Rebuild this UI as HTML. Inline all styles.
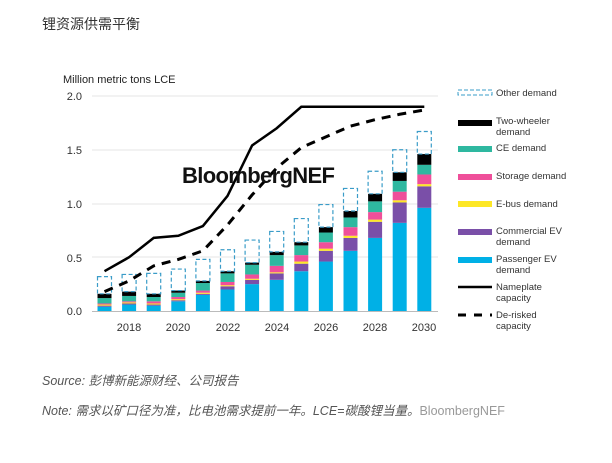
<!DOCTYPE html>
<html><head><meta charset="utf-8"><style>
body{margin:0;width:612px;height:463px;background:#fff;overflow:hidden;font-family:"Liberation Sans","Noto Sans CJK SC",sans-serif}
.t{position:absolute;left:42px;top:14px;font-size:14px;color:#333}
.s{position:absolute;left:42px;font-size:12.5px;color:#555;font-style:italic}
</style></head><body>
<div class="t">锂资源供需平衡</div>
<svg id="c" width="612" height="463" style="position:absolute;left:0;top:0" font-family="Liberation Sans, sans-serif">
<text x="63" y="83" font-size="11" fill="#222">Million metric tons LCE</text>
<g font-size="11" fill="#333" text-anchor="end">
<text x="82" y="100">2.0</text><text x="82" y="154">1.5</text><text x="82" y="208">1.0</text><text x="82" y="262">0.5</text><text x="82" y="315">0.0</text></g>
<g stroke="#e6e6e6" stroke-width="1"><line x1="92" x2="438" y1="96" y2="96"/><line x1="92" x2="438" y1="150" y2="150"/><line x1="92" x2="438" y1="204" y2="204"/><line x1="92" x2="438" y1="257" y2="257"/></g>
<line x1="92" x2="438" y1="311.5" y2="311.5" stroke="#bbb"/>
<g font-size="11" fill="#333" text-anchor="middle">
<text x="129" y="331">2018</text><text x="178" y="331">2020</text><text x="228" y="331">2022</text><text x="277" y="331">2024</text><text x="326" y="331">2026</text><text x="375" y="331">2028</text><text x="424" y="331">2030</text></g>
<g id="bars"></g>
<text x="182" y="183" font-size="22" font-weight="bold" fill="#111" textLength="153">BloombergNEF</text>
<g font-size="9.5" fill="#333">
<rect x="458" y="90" width="34" height="5" fill="none" stroke="#3a9cc8" stroke-dasharray="4,2"/><text x="496" y="96">Other demand</text>
<rect x="458" y="120" width="34" height="6" fill="#000"/><text x="496" y="124">Two-wheeler</text><text x="496" y="135">demand</text>
<rect x="458" y="146" width="34" height="6" fill="#2eb8a0"/><text x="496" y="151">CE demand</text>
<rect x="458" y="174" width="34" height="6" fill="#ef4f9a"/><text x="496" y="179">Storage demand</text>
<rect x="458" y="201" width="34" height="6" fill="#fde726"/><text x="496" y="207">E-bus demand</text>
<rect x="458" y="229" width="34" height="6" fill="#7a4fa8"/><text x="496" y="234">Commercial EV</text><text x="496" y="245">demand</text>
<rect x="458" y="257" width="34" height="6" fill="#00b0e6"/><text x="496" y="262">Passenger EV</text><text x="496" y="273">demand</text>
<line x1="458" x2="492" y1="287" y2="287" stroke="#000" stroke-width="2.5"/><text x="496" y="290">Nameplate</text><text x="496" y="301">capacity</text>
<line x1="458" x2="492" y1="315" y2="315" stroke="#000" stroke-width="3" stroke-dasharray="8,8"/><text x="496" y="318">De-risked</text><text x="496" y="329">capacity</text>
</g>
</svg>
<div class="s" style="top:370px">Source: 彭博新能源财经、公司报告</div>
<div class="s" style="top:400px">Note: 需求以矿口径为准，比电池需求提前一年。LCE=碳酸锂当量。<span style="color:#999;font-style:normal">BloombergNEF</span></div>
<script>
var d=[[.04,.01,.01,.01,.05,.04,.32],[.06,.01,.01,.01,.05,.04,.34],[.05,.01,.01,.02,.04,.03,.35],[.09,.01,.01,.02,.04,.02,.39],[.15,.01,.01,.02,.07,.02,.48],[.20,.03,.01,.03,.08,.02,.57],[.25,.04,.01,.04,.09,.02,.66],[.29,.06,.01,.06,.10,.03,.74],[.37,.07,.02,.06,.09,.03,.86],[.46,.10,.02,.06,.09,.05,.99],[.56,.12,.02,.08,.09,.06,1.14],[.68,.15,.02,.07,.10,.07,1.30],[.82,.19,.02,.08,.10,.08,1.50],[.96,.20,.02,.09,.09,.10,1.67]];
var col=["#00b0e6","#7a4fa8","#fde726","#ef4f9a","#2eb8a0","#000"];
var np=[.37,.50,.68,.70,.79,1.07,1.54,1.70,1.90,1.90,1.90,1.90,1.90,1.90];
var dr=[.18,.28,.42,.48,.56,.80,1.08,1.33,1.52,1.62,1.72,1.78,1.83,1.87];
function Y(v){return 311-v*107.5}function X(i){return 104.5+i*24.6}
var h="";d.forEach(function(r,i){var c=0,x=X(i)-7;for(var k=0;k<6;k++){h+='<rect x="'+x+'" y="'+Y(c+r[k])+'" width="14" height="'+(r[k]*107.5)+'" fill="'+col[k]+'"/>';c+=r[k];}
h+='<rect x="'+x+'" y="'+Y(r[6])+'" width="14" height="'+((r[6]-c)*107.5)+'" fill="none" stroke="#3a9cc8" stroke-width="1.2" stroke-dasharray="4,2.5"/>';});
var p1=np.map(function(v,i){return X(i)+","+Y(v)}).join(" "),p2=dr.map(function(v,i){return X(i)+","+Y(v)}).join(" ");
h+='<polyline points="'+p1+'" fill="none" stroke="#000" stroke-width="2.5"/><polyline points="'+p2+'" fill="none" stroke="#000" stroke-width="3" stroke-dasharray="9,7"/>';
document.getElementById("bars").innerHTML=h;
</script>
</body></html>
